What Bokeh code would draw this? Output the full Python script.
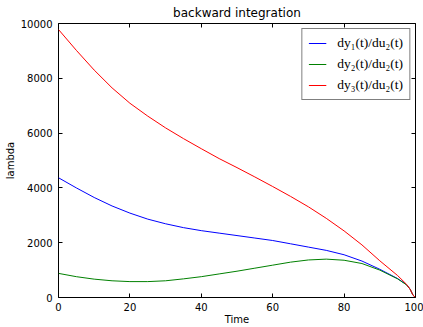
from bokeh.plotting import figure
from bokeh.models import Range1d, LinearAxis, SingleIntervalTicker, Legend, LegendItem
from bokeh.embed import file_html
from bokeh.resources import INLINE

# Data
t = [0, 5, 10, 15, 20, 25, 30, 35, 40, 45, 50, 55, 60, 65, 70, 75, 80, 85, 90, 95, 97.5, 98.5, 99.3, 100]
dy1 = [4370, 4000, 3650, 3340, 3080, 2860, 2690, 2550, 2440, 2350, 2260, 2170, 2080, 1960, 1840, 1720,
       1560, 1330, 1030, 690, 470, 300, 85, 0]
dy2 = [880, 760, 670, 610, 580, 580, 610, 680, 760, 860, 960, 1070, 1180, 1290, 1370, 1400,
       1360, 1240, 1000, 680, 460, 300, 85, 0]
dy3 = [9780, 9020, 8300, 7650, 7090, 6620, 6190, 5800, 5430, 5070, 4740, 4400, 4050, 3690, 3310, 2890,
       2430, 1920, 1340, 800, 480, 300, 85, 0]
labels = ["dy\u2081(t)/du\u2082(t)", "dy\u2082(t)/du\u2082(t)", "dy\u2083(t)/du\u2082(t)"]
colors = ["#0000ff", "#008000", "#ff0000"]

p = figure(width=423, height=327, output_backend="svg", toolbar_location=None,
           x_range=Range1d(0, 100), y_range=Range1d(0, 10000),
           min_border_left=58, min_border_right=8, min_border_top=23, min_border_bottom=27,
           title="backward integration")
p.title.align = "center"
p.title.text_font = "DejaVu Sans"
p.title.text_font_size = "12px"
p.title.text_font_style = "normal"
p.title.text_color = "black"
p.title.standoff = 0
p.grid.visible = False
p.outline_line_color = "black"
p.outline_line_width = 1
p.background_fill_color = "white"

xt = SingleIntervalTicker(interval=20)
yt = SingleIntervalTicker(interval=2000)

p.xaxis.ticker = xt
p.yaxis.ticker = yt
for ax in (p.xaxis, p.yaxis):
    ax.axis_line_color = None
    ax.major_tick_in = 4
    ax.major_tick_out = 0
    ax.minor_tick_line_color = None
    ax.major_tick_line_color = "black"
    ax.major_label_text_font = "DejaVu Sans"
    ax.major_label_text_font_size = "10px"
    ax.major_label_text_color = "black"
    ax.axis_label_text_font = "DejaVu Sans"
    ax.axis_label_text_font_size = "10px"
    ax.axis_label_text_font_style = "normal"
    ax.axis_label_text_color = "black"
p.xaxis.major_label_standoff = 1
p.xaxis.axis_label_standoff = 0
p.yaxis.major_label_standoff = 2
p.yaxis.axis_label_standoff = 2
p.xaxis.axis_label = "Time"
p.yaxis.axis_label = "lambda"
p.yaxis.major_label_orientation = "horizontal"

for loc, tk in (("above", xt), ("right", yt)):
    ax = LinearAxis(ticker=tk)
    ax.axis_line_color = None
    ax.major_tick_in = 4
    ax.major_tick_out = 0
    ax.minor_tick_line_color = None
    ax.major_tick_line_color = "black"
    ax.major_label_text_font_size = "1px"
    ax.major_label_text_color = None
    ax.major_label_text_alpha = 0
    ax.major_label_standoff = 0
    p.add_layout(ax, loc)

renderers = []
for ys, c in zip((dy1, dy2, dy3), colors):
    r = p.line(t, ys, line_color=c, line_width=1)
    renderers.append(r)

legend = Legend(items=[LegendItem(label=lab, renderers=[r]) for lab, r in zip(labels, renderers)],
                location="top_right")
legend.margin = 5
legend.padding = 6
legend.spacing = 5
legend.glyph_width = 18
legend.glyph_height = 14
legend.label_height = 14
legend.label_standoff = 11
legend.label_text_font = "Liberation Serif"
legend.label_text_font_size = "13.5px"
legend.label_text_color = "black"
legend.border_line_color = "black"
legend.border_line_width = 1
legend.background_fill_color = "white"
legend.background_fill_alpha = 1
p.add_layout(legend, "center")

open("out.html", "w").write(file_html(p, INLINE))
